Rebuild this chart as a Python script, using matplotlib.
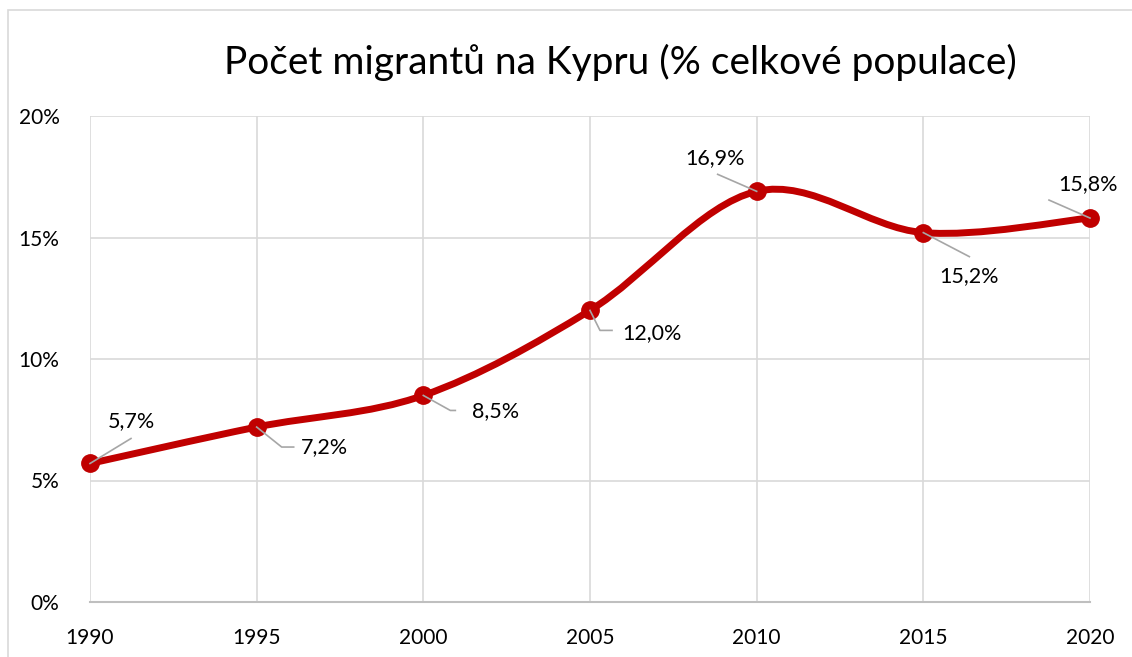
import matplotlib
matplotlib.use('Agg')
import matplotlib.pyplot as plt
from matplotlib.path import Path
from matplotlib.patches import PathPatch, Rectangle
from matplotlib.transforms import IdentityTransform
import matplotlib.ticker as ticker

## DATA ########################################################################
years = [1990, 1995, 2000, 2005, 2010, 2015, 2020]
migrants_pct = [5.7, 7.2, 8.5, 12.0, 16.9, 15.2, 15.8]
value_labels = ['5,7%', '7,2%', '8,5%', '12,0%', '16,9%', '15,2%', '15,8%']
y_ticks = [0, 5, 10, 15, 20]
y_tick_labels = ['0%', '5%', '10%', '15%', '20%']
title = 'Počet migrantů na Kypru (% celkové populace)'

## STYLE #######################################################################
plt.rcParams['font.family'] = ['Lato', 'DejaVu Sans']
line_red = '#c00000'
grid_grey = '#d9d9d9'
axis_grey = '#bfbfbf'
leader_grey = '#a6a6a6'

# label centre offsets (pixels, y up) and leader-line vertices per point
label_offsets = [(41, 42), (68, -20), (72, -16), (62, -23), (-42, 33), (46, -43), (-2, 34)]
leader_paths = [
    [(0, 0), (41, 25)],
    [(0, 0), (25, -20), (37, -20)],
    [(0, 0), (27, -15), (32, -15)],
    [(0, 0), (10, -20), (22, -20)],
    [(0, 0), (-39, 17)],
    [(0, 0), (46, -24)],
    [(0, 0), (-41, 18)],
]


def smooth_path(xs, ys):
    '''Excel-like smoothed line: Catmull-Rom segments as cubic Beziers'''
    pts = list(zip(xs, ys))
    verts = [pts[0]]
    codes = [Path.MOVETO]
    n = len(pts)
    for i in range(n - 1):
        p0 = pts[i - 1] if i > 0 else pts[i]
        p1 = pts[i]
        p2 = pts[i + 1]
        p3 = pts[i + 2] if i + 2 < n else pts[i + 1]
        c1 = (p1[0] + (p2[0] - p0[0]) / 6, p1[1] + (p2[1] - p0[1]) / 6)
        c2 = (p2[0] - (p3[0] - p1[0]) / 6, p2[1] - (p3[1] - p1[1]) / 6)
        verts += [c1, c2, p2]
        codes += [Path.CURVE4] * 3
    return Path(verts, codes)


fig = plt.figure(figsize=(11.32, 6.57), dpi=100)
ax = fig.add_axes([90 / 1132, 1 - 602 / 657, 1000 / 1132, (602 - 116) / 657])

# chart border (cropped on the right and bottom in the reference)
fig.patches.append(Rectangle((8 / 1132, -0.1), 1.2, 1 - 10 / 657 + 0.1, transform=fig.transFigure,
                             fill=False, edgecolor=grid_grey, linewidth=1.2))

ax.set_xlim(1990, 2020)
ax.set_ylim(0, 20)
ax.xaxis.set_major_locator(ticker.FixedLocator(years))
ax.set_yticks(y_ticks)
ax.set_yticklabels(y_tick_labels)
ax.grid(True, color=grid_grey, linewidth=1.2)
ax.set_axisbelow(True)
for side in ['top', 'right', 'left']:
    ax.spines[side].set_visible(False)
ax.spines['bottom'].set_color(axis_grey)
ax.spines['bottom'].set_linewidth(1.5)
ax.tick_params(axis='both', length=0, labelsize=15, colors='black')
ax.tick_params(axis='y', pad=22)
ax.tick_params(axis='x', pad=19)

ax.add_patch(PathPatch(smooth_path(years, migrants_pct), facecolor='none', edgecolor=line_red,
                       linewidth=5, capstyle='round', joinstyle='round', zorder=3, clip_on=False))
ax.plot(years, migrants_pct, linestyle='none', marker='o', markersize=12.5,
        color=line_red, zorder=4, clip_on=False)

for x, y, lab, off, leader in zip(years, migrants_pct, value_labels, label_offsets, leader_paths):
    px, py = ax.transData.transform((x, y))
    ax.plot([px + vx for vx, vy in leader], [py + vy for vx, vy in leader], color=leader_grey,
            linewidth=1.2, transform=IdentityTransform(), zorder=5, clip_on=False)
    ax.annotate(lab, xy=(x, y), xytext=off, textcoords='offset pixels', ha='center', va='center',
                fontsize=15.5, zorder=6, annotation_clip=False)

fig.text(620 / 1132, 1 - 62 / 657, title, ha='center', va='center', fontsize=28)

fig.savefig('out.png', dpi=100)
